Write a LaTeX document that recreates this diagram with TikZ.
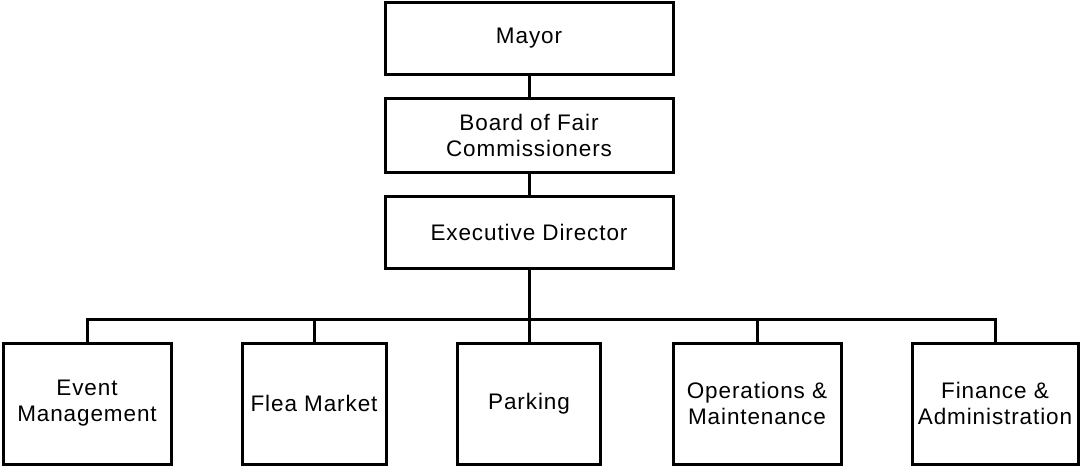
\documentclass[tikz,border=0pt]{standalone}
\usepackage{fontspec}
\setmainfont{Liberation Sans}[LetterSpace=4]
\begin{document}
\begin{tikzpicture}[x=1pt,y=-1pt,
  box/.style={draw=black, line width=3pt, fill=white, align=center,
    inner sep=0pt, outer sep=0pt, font=\fontsize{22.5pt}{26pt}\selectfont},
  conn/.style={draw=black, line width=3pt, line join=miter}]
\useasboundingbox (0,0) rectangle (1081,466);
\node[box, minimum width=288pt, minimum height=72pt] (mayor) at (529,38) {Mayor};
\node[box, minimum width=288pt, minimum height=74pt] (board) at (529,135) {Board of Fair\\Commissioners};
\node[box, minimum width=288pt, minimum height=72pt] (exec) at (529,232) {Executive Director};
\coordinate (bus) at (0,319);
\node[box, minimum width=168pt, minimum height=121pt] (ev) at (87,403.5) {Event\\Management};
\node[box, minimum width=144pt, minimum height=121pt] (flea) at (314,403.5) {Flea Market};
\node[box, minimum width=143pt, minimum height=121pt] (park) at (529,403.5) {Parking};
\node[box, minimum width=168pt, minimum height=121pt] (ops) at (757,403.5) {Operations \&\\Maintenance};
\node[box, minimum width=166pt, minimum height=121pt] (fin) at (995,403.5) {Finance \&\\Administration};
\draw[conn] (mayor.south) -- (board.north);
\draw[conn] (board.south) -- (exec.north);
\draw[conn] (exec.south) -- (exec.south |- bus);
\draw[conn] (ev.north) -- (ev.north |- bus) -- (fin.north |- bus) -- (fin.north);
\draw[conn] (flea.north) -- (flea.north |- bus);
\draw[conn] (park.north) -- (park.north |- bus);
\draw[conn] (ops.north) -- (ops.north |- bus);
\end{tikzpicture}
\end{document}
